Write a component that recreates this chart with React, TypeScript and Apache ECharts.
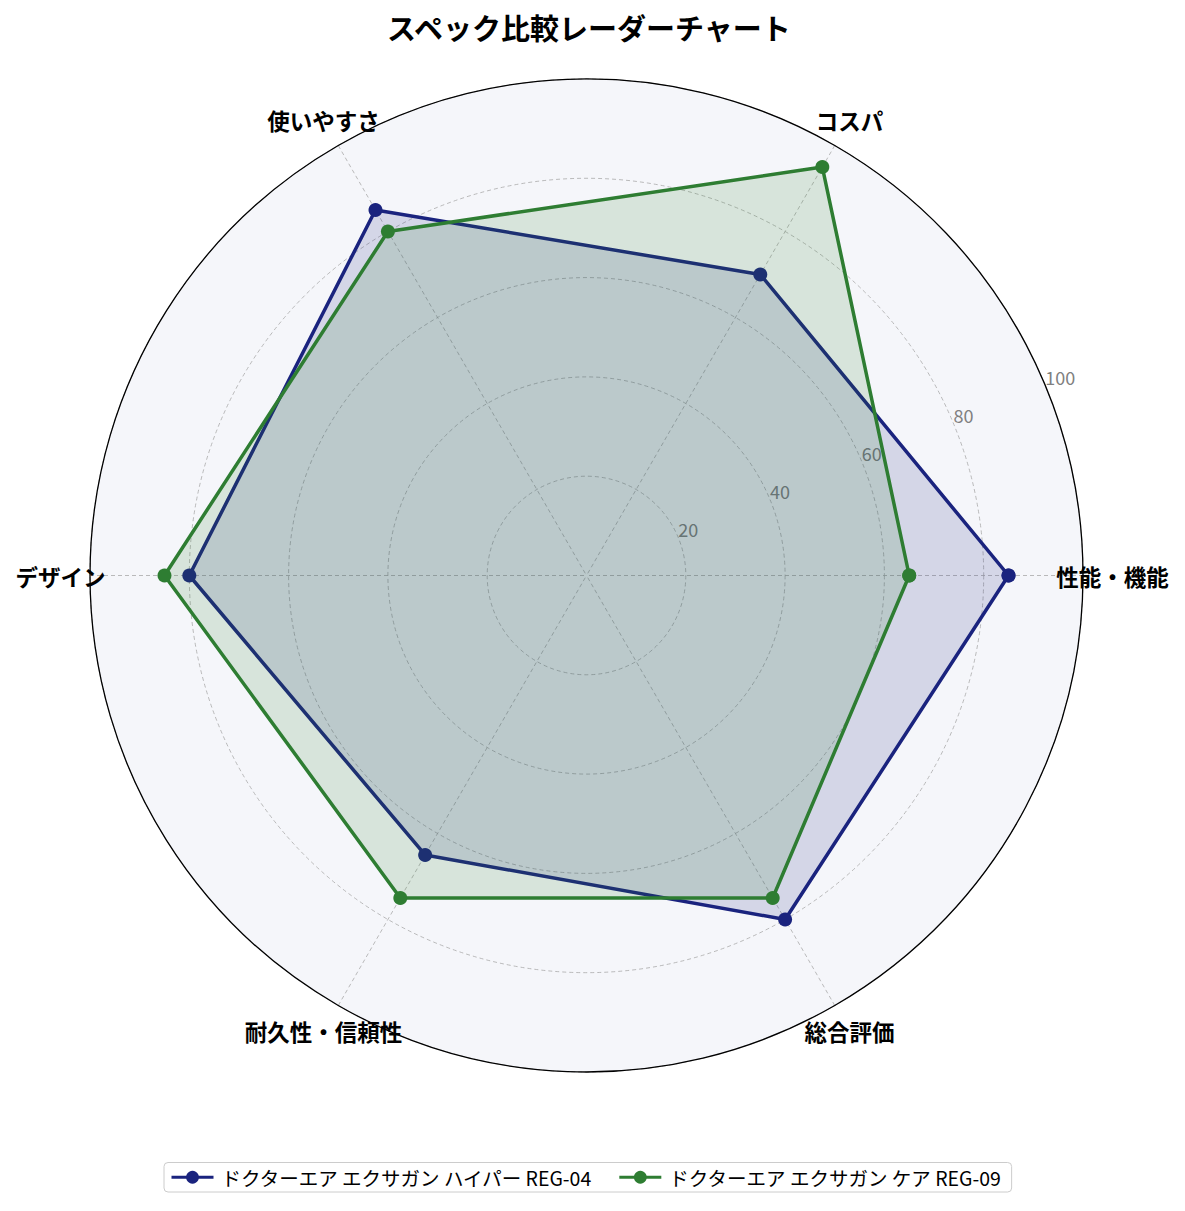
import { useRef, useEffect } from "react";
import * as echarts from "echarts";

// 軸（反時計回り、右から）
const categories = ["性能・機能", "コスパ", "使いやすさ", "デザイン", "耐久性・信頼性", "総合評価"];
const seriesNames = ["ドクターエア エクサガン ハイパー REG-04", "ドクターエア エクサガン ケア REG-09"];
const hyperValues = [85, 70, 85, 80, 65, 80];
const careValues = [65, 95, 80, 85, 75, 75];
const radiusTicks = [20, 40, 60, 80, 100];

const colors = ["#1a237e", "#2e7d32"];
const FONT = '"Noto Sans CJK JP", "Noto Sans", sans-serif';

const CX = 586.5;
const CY = 575.5;
const R = 496.5;
const LABEL_R = 526;

const step = 360 / categories.length;
// 閉じた多角形にするため最初の点を 360° に繰り返す
const toPolar = (vals: number[]) =>
  [...vals, vals[0]].map((v, i) => [v, i * step]);

const App = () => {
  const chartRef = useRef<HTMLDivElement>(null);

  useEffect(() => {
    document.body.style.margin = "0";
    const myChart = echarts.init(chartRef.current, null, { renderer: "svg" });

    const option = {
      animation: false,
      textStyle: { fontFamily: FONT },
      title: {
        text: "スペック比較レーダーチャート",
        left: 382,
        top: 7,
        textStyle: { fontSize: 29, fontWeight: "bold", color: "#000", fontFamily: FONT },
      },
      legend: {
        bottom: 19,
        left: 164,
        itemWidth: 42,
        itemHeight: 16,
        itemGap: 25,
        padding: [5, 10, 5, 6],
        borderColor: "#cccccc",
        borderWidth: 1,
        borderRadius: 4,
        lineStyle: { width: 3 },
        textStyle: { fontSize: 19.5, color: "#000", fontFamily: FONT, padding: [0, 0, 0, 3] },
        data: seriesNames,
      },
      polar: [
        { center: [CX, CY], radius: R },
        { center: [CX, CY], radius: R },
      ],
      angleAxis: [
        {
          polarIndex: 0,
          type: "value",
          min: 0,
          max: 360,
          interval: step,
          startAngle: 0,
          clockwise: false,
          z: 1,
          axisLine: { lineStyle: { color: "#000", width: 1.3 } },
          axisTick: { show: false },
          axisLabel: { show: false },
          splitLine: { lineStyle: { color: "#aaaaaa", width: 0.8, type: [4, 3] } },
        },
        {
          polarIndex: 1,
          type: "value",
          min: 0,
          max: 360,
          startAngle: 22.5,
          clockwise: false,
          axisLine: { show: false },
          axisTick: { show: false },
          axisLabel: { show: false },
          splitLine: { show: false },
        },
      ],
      radiusAxis: [
        {
          polarIndex: 0,
          type: "value",
          min: 0,
          max: 100,
          interval: 20,
          z: 0,
          axisLine: { show: false },
          axisTick: { show: false },
          axisLabel: { show: false },
          splitLine: { show: false },
          splitArea: { show: true, areaStyle: { color: ["#f5f6fa"] } },
        },
        {
          polarIndex: 1,
          type: "value",
          min: 0,
          max: 100,
          interval: 20,
          z: 1,
          axisLine: { show: false },
          axisTick: { show: false },
          splitLine: { lineStyle: { color: "#aaaaaa", width: 0.8, type: [4, 3] } },
          axisLabel: {
            margin: 0,
            align: "left",
            verticalAlign: "bottom",
            color: "#808080",
            fontSize: 18,
            fontFamily: FONT,
            formatter: (v: number) => (radiusTicks.includes(v) ? String(v) : ""),
          },
        },
      ],
      series: [hyperValues, careValues].map((vals, i) => ({
        name: seriesNames[i],
        type: "line",
        coordinateSystem: "polar",
        polarIndex: 0,
        data: toPolar(vals),
        symbol: "circle",
        symbolSize: 14,
        color: colors[i],
        lineStyle: { width: 3.5, color: colors[i] },
        itemStyle: { color: colors[i] },
        areaStyle: { color: colors[i], opacity: 0.15 },
        z: 2 + i,
      })),
      graphic: categories.map((name, i) => {
        const a = (i * step * Math.PI) / 180;
        return {
          type: "text",
          x: CX + LABEL_R * Math.cos(a),
          y: CY - LABEL_R * Math.sin(a),
          z: 100,
          style: {
            text: name,
            align: "center",
            verticalAlign: "middle",
            fill: "#000",
            fontSize: 22.5,
            fontWeight: "bold",
            fontFamily: FONT,
          },
        };
      }),
    };

    myChart.setOption(option);

    return () => {
      myChart.dispose();
    };
  }, []);

  return <div ref={chartRef} style={{ width: "1185px", height: "1211px" }}></div>;
};

export default App;
